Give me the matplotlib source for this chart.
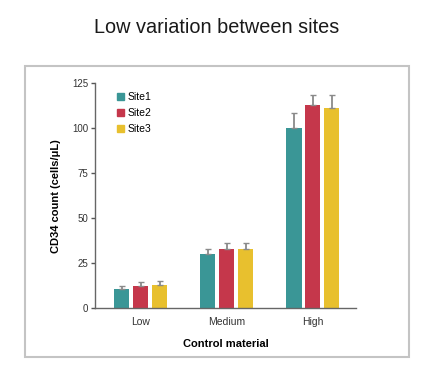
import numpy as np
import matplotlib.pyplot as plt
from matplotlib.patches import Rectangle, Patch

plt.rcParams['font.family'] = ['Liberation Sans', 'DejaVu Sans']

levels = ['Low', 'Medium', 'High']
sites = ['Site1', 'Site2', 'Site3']
site1 = [10.5, 30.2, 100.0]
site2 = [12.4, 32.8, 113.0]
site3 = [13.0, 32.8, 111.1]
err1 = [2.0, 2.6, 8.7]
err2 = [2.4, 3.7, 5.3]
err3 = [2.2, 3.7, 7.2]
colors = ['#3a9696', '#c5374b', '#e8c02e']

fig = plt.figure(figsize=(4.32, 3.73), dpi=100)
fig.patch.set_facecolor('white')

# gray frame round the chart
fig.patches.append(Rectangle((25/432, 1-357/373), 384/432, 291/373,
                             transform=fig.transFigure, fill=False,
                             edgecolor='#c4c4c4', linewidth=1.5))
fig.text(217/432, 1-33/373, 'Low variation between sites', ha='center', va='baseline',
         fontsize=14.3, color='#1a1a1a')

ax = fig.add_axes([95/432, 1-308.3/373, 261/432, 225/373])
x = np.arange(len(levels))
w = 0.175
step = 0.22
vals = [site1, site2, site3]
errs = [err1, err2, err3]
for i in range(3):
    ax.bar(x + (i-1)*step, vals[i], w, color=colors[i], label=sites[i],
           yerr=[np.zeros(3), errs[i]], ecolor='#8a8a8a',
           error_kw=dict(elinewidth=1.3, capsize=2, capthick=1))

ax.set_xlim(-0.53, 2.5)
ax.set_ylim(0, 125)
ax.set_yticks([0, 25, 50, 75, 100, 125])
ax.set_xticks(x)
ax.set_xticklabels(levels)
ax.tick_params(axis='x', length=0, pad=6, labelsize=7.5, labelcolor='#333333')
ax.tick_params(axis='y', length=3, width=1, color='#555555', pad=2,
               labelsize=7, labelcolor='#333333')
for s in ['top', 'right']:
    ax.spines[s].set_visible(False)
for s in ['left', 'bottom']:
    ax.spines[s].set_color('#666666')
    ax.spines[s].set_linewidth(1)
ax.set_ylabel('CD34 count (cells/\u03bcL)', fontsize=8, fontweight='bold', labelpad=8)
ax.set_xlabel('Control material', fontsize=8, fontweight='bold', labelpad=9)

handles = [Patch(color=c) for c in colors]
ax.legend(handles, sites, loc='upper left', bbox_to_anchor=(0.07, 0.98), frameon=False,
          fontsize=7.5, handlelength=0.65, handleheight=0.65, handletextpad=0.3,
          labelspacing=0.58, borderaxespad=0)

fig.savefig('out.png', dpi=100)
